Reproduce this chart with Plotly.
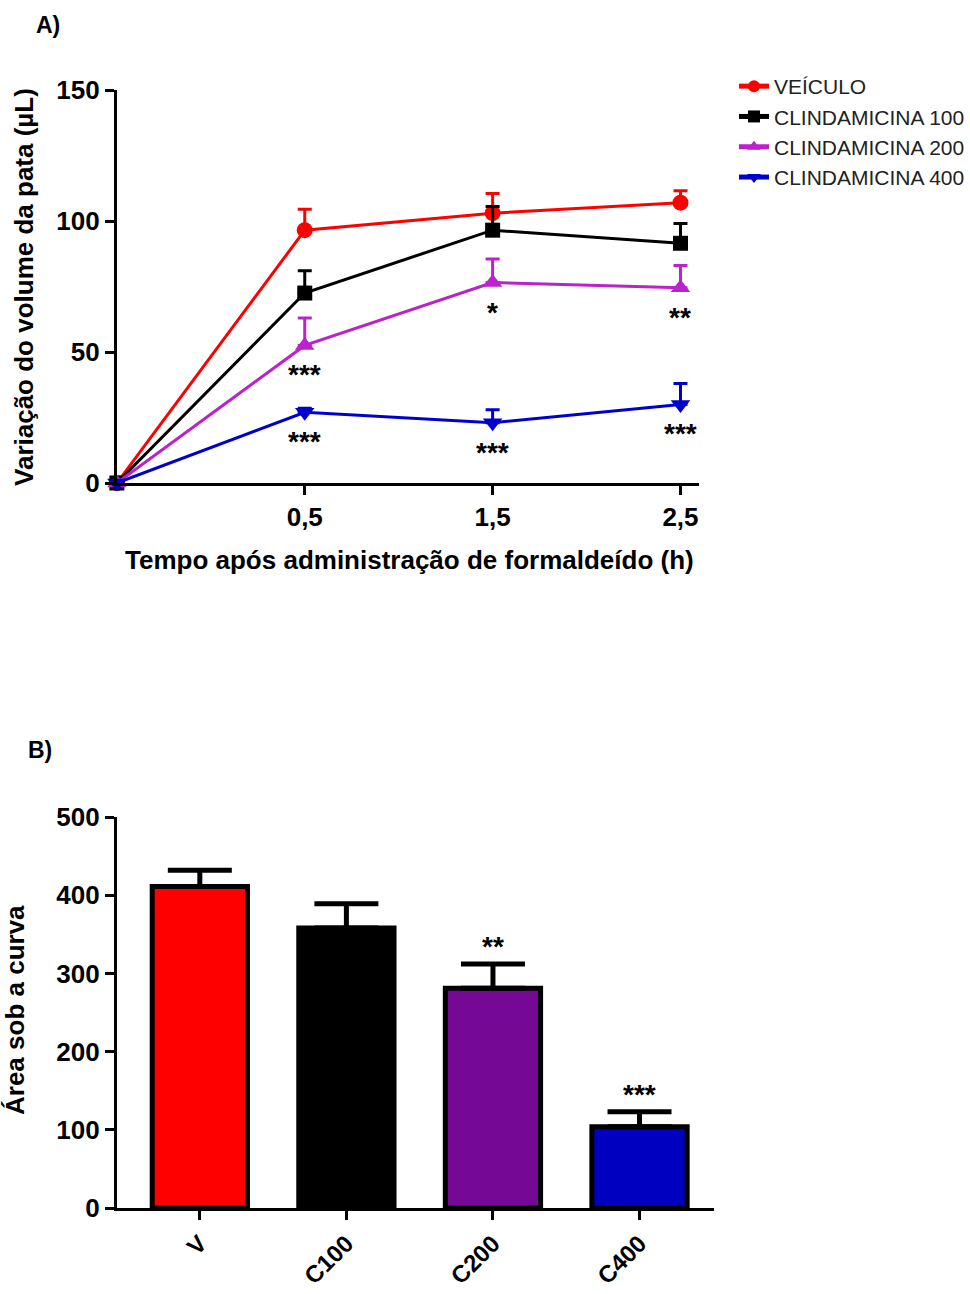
import plotly.graph_objects as go

# ---------------- Data: panel A (paw volume variation) ----------------
time_labels = ["0", "0,5", "1,5", "2,5"]
series_names = ["VEÍCULO", "CLINDAMICINA 100", "CLINDAMICINA 200", "CLINDAMICINA 400"]
veiculo = [0, 96.5, 103, 107]
veiculo_err = [0, 8, 7.5, 4.5]
c100 = [0, 72.5, 96.5, 91.5]
c100_err = [0, 8.5, 9, 7.5]
c200 = [0, 52.5, 76.5, 74.5]
c200_err = [0, 10.5, 9, 8.5]
c400 = [0, 27, 23, 30]
c400_err = [0, 1.5, 5, 8]
sig_c200 = ["", "***", "*", "**"]
sig_c400 = ["", "***", "***", "***"]
yticks_a = [0, 50, 100, 150]

# ---------------- Data: panel B (area under the curve) ----------------
bar_categories = ["V", "C100", "C200", "C400"]
auc = [411, 358, 281, 104]
auc_err = [21, 31, 31, 19]
auc_sig = ["", "", "**", "***"]
yticks_b = [0, 100, 200, 300, 400, 500]

FONT = "Liberation Sans, Arial, sans-serif"
W, H = 970, 1294

line_colors = ["#FF0000", "#000000", "#BB22CC", "#0000CC"]
symbols = ["circle", "square", "triangle-up", "triangle-down"]
msizes = [16, 15, 17, 17]
bar_colors = ["#FF0000", "#000000", "#750895", "#0000C0"]

fig = go.Figure()

all_vals = [veiculo, c100, c200, c400]
all_errs = [veiculo_err, c100_err, c200_err, c400_err]
for name, vals, errs, col, sym, ms in zip(series_names, all_vals, all_errs,
                                          line_colors, symbols, msizes):
    fig.add_trace(go.Scatter(
        x=time_labels, y=vals, name=name, mode="lines+markers",
        line=dict(color=col, width=3),
        marker=dict(symbol=sym, size=ms, color=col),
        error_y=dict(type="data", symmetric=False, array=errs,
                     arrayminus=[0] * len(errs), color=col, thickness=3, width=7),
        cliponaxis=False, xaxis="x", yaxis="y",
    ))

fig.add_trace(go.Bar(
    x=bar_categories, y=auc, width=0.65, showlegend=False,
    marker=dict(color=bar_colors, line=dict(color="black", width=5)),
    error_y=dict(type="data", symmetric=False, array=auc_err,
                 arrayminus=[0] * len(auc_err), color="black", thickness=5, width=32),
    xaxis="x2", yaxis="y2",
))

star_font = dict(family=FONT, size=28, color="black", weight="bold")
annotations = []
# significance marks panel A (below the points)
for vals, sigs in [(c200, sig_c200), (c400, sig_c400)]:
    for t, v, s in zip(time_labels, vals, sigs):
        if s:
            annotations.append(dict(x=t, y=v, xref="x", yref="y", text=s,
                                    showarrow=False, yanchor="top", yshift=-12,
                                    font=star_font))
# significance marks panel B (above error bars)
for c, v, e, s in zip(bar_categories, auc, auc_err, auc_sig):
    if s:
        annotations.append(dict(x=c, y=v + e, xref="x2", yref="y2", text=s,
                                showarrow=False, yanchor="bottom", yshift=0,
                                font=star_font))

title_font = dict(family=FONT, size=26, color="black", weight="bold")
annotations += [
    dict(text="A)", x=34 / W, y=1 - 10 / H, xref="paper", yref="paper",
         xanchor="left", yanchor="top", showarrow=False,
         font=dict(family=FONT, size=23, color="black", weight="bold")),
    dict(text="B)", x=26 / W, y=1 - 735 / H, xref="paper", yref="paper",
         xanchor="left", yanchor="top", showarrow=False,
         font=dict(family=FONT, size=23, color="black", weight="bold")),
    dict(text="Tempo após administração de formaldeído (h)", x=410 / W, y=1 - 560 / H,
         xref="paper", yref="paper", xanchor="center", yanchor="middle",
         showarrow=False, font=title_font),
    dict(text="Variação do volume da pata (µL)", x=24 / W, y=1 - 287 / H,
         xref="paper", yref="paper", xanchor="center", yanchor="middle",
         textangle=-90, showarrow=False, font=title_font),
    dict(text="Área sob a curva", x=15 / W, y=1 - 1010 / H,
         xref="paper", yref="paper", xanchor="center", yanchor="middle",
         textangle=-90, showarrow=False, font=title_font),
]

axis_common = dict(showline=True, linewidth=3, linecolor="black", ticks="outside",
                   ticklen=9, tickwidth=3, tickcolor="black", showgrid=False,
                   zeroline=False, automargin=False,
                   tickfont=dict(family=FONT, size=26, color="black", weight="bold"))

fig.update_layout(
    width=W, height=H, margin=dict(l=0, r=0, t=0, b=0),
    paper_bgcolor="white", plot_bgcolor="white",
    showlegend=True,
    legend=dict(x=735 / W, y=1 - 66 / H, xanchor="left", yanchor="top",
                font=dict(family=FONT, size=21, color="#222222"),
                itemsizing="constant", bgcolor="rgba(0,0,0,0)", tracegroupgap=0),
    xaxis=dict(domain=[117 / W, 700 / W], anchor="y", type="category",
               categoryorder="array", categoryarray=time_labels,
               range=[0, 3.1], tickvals=time_labels[1:], ticktext=time_labels[1:],
               **axis_common),
    yaxis=dict(domain=[1 - 483 / H, 1 - 90 / H], anchor="x", range=[0, 150],
               tickvals=yticks_a, **axis_common),
    xaxis2=dict(domain=[117 / W, 715 / W], anchor="y2", type="category",
                range=[-0.566, 3.51], tickangle=-45,
                **{**axis_common,
                   "tickfont": dict(family=FONT, size=24, color="black", weight="bold")}),
    yaxis2=dict(domain=[1 - 1208 / H, 1 - 817 / H], anchor="x2", range=[0, 500],
                tickvals=yticks_b, **axis_common),
    annotations=annotations,
)

fig.write_html("out.html")
